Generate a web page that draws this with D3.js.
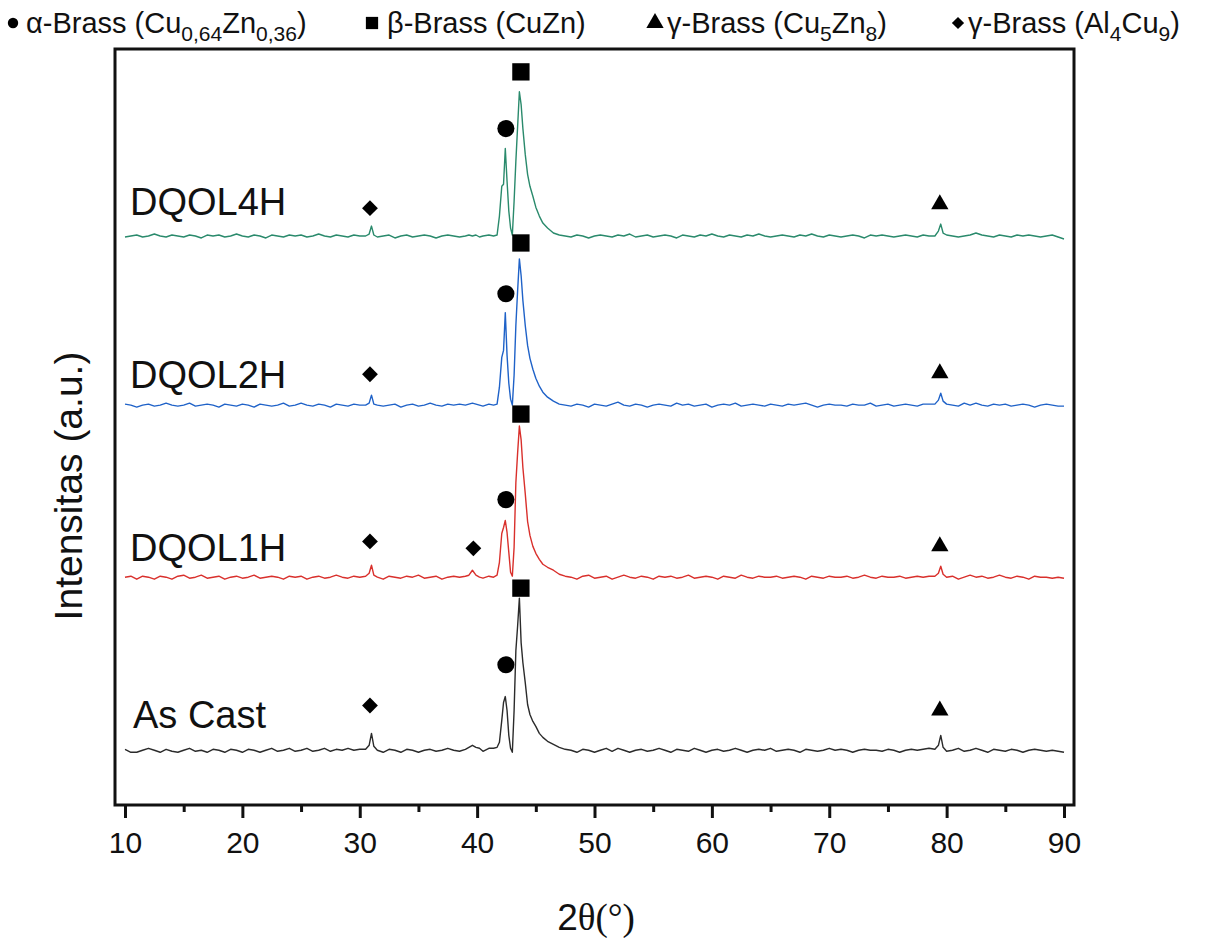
<!DOCTYPE html>
<html>
<head>
<meta charset="utf-8">
<script src="https://cdn.jsdelivr.net/npm/d3@7"></script>
<style>
  body { margin: 0; background: #fff; }
  text { font-family: "Liberation Sans", Arial, sans-serif; fill: #111; }
</style>
</head>
<body>
<script>
// 2theta positions (deg), shared by every pattern
var twoTheta = [
  10, 10.5, 11, 11.5, 12, 12.5, 13, 13.5, 14, 14.5,
  15, 15.5, 16, 16.5, 17, 17.5, 18, 18.5, 19, 19.5,
  20, 20.5, 21, 21.5, 22, 22.5, 23, 23.5, 24, 24.5,
  25, 25.5, 26, 26.5, 27, 27.5, 28, 28.5, 29, 29.5,
  30, 30.5, 30.8, 31, 31.2, 31.5, 32, 32.5, 33, 33.5,
  34, 34.5, 35, 35.5, 36, 36.5, 37, 37.5, 38, 38.5,
  39, 39.3, 39.6, 39.9, 40.2, 40.5, 41, 41.4, 41.7, 41.9,
  42.1, 42.25, 42.4, 42.55, 42.7, 42.85, 43, 43.15, 43.3, 43.45,
  43.6, 43.75, 43.9, 44.1, 44.3, 44.5, 44.75, 45, 45.3, 45.6,
  46, 46.5, 47, 47.5, 48, 48.5, 49, 49.5, 50, 50.5,
  51, 51.5, 52, 52.5, 53, 53.5, 54, 54.5, 55, 55.5,
  56, 56.5, 57, 57.5, 58, 58.5, 59, 59.5, 60, 60.5,
  61, 61.5, 62, 62.5, 63, 63.5, 64, 64.5, 65, 65.5,
  66, 66.5, 67, 67.5, 68, 68.5, 69, 69.5, 70, 70.5,
  71, 71.5, 72, 72.5, 73, 73.5, 74, 74.5, 75, 75.5,
  76, 76.5, 77, 77.5, 78, 78.5, 79, 79.3, 79.5, 79.7,
  80, 80.5, 81, 81.5, 82, 82.5, 83, 83.5, 84, 84.5,
  85, 85.5, 86, 86.5, 87, 87.5, 88, 88.5, 89, 89.5,
  90
];

// intensities above each pattern's own baseline (a.u.)
var asCast = [
  1, -2, -2, 0, 2, 0, -2, 1, -1, -2,
  0, 2, -1, 0, -2, 1, 0, -2, 1, 0,
  -2, 1, 0, -2, 0, 2, -1, 0, 2, -1,
  0, 2, -1, 0, 2, -1, 1, 0, 2, 0,
  1, 1, 5, 17, 4, 0, -2, 1, 0, -2,
  1, 0, -2, 0, 1, -1, 0, 2, 0, -1,
  1, 3, 5, 3, 2, -1, 2, 2, 3, 8,
  30, 48, 54, 40, 15, 2, -2, 40, 100, 125,
  153, 108, 88, 68, 46, 36, 29, 24, 17, 13,
  9, 6, 3, 1, 0, -2, 1, 0, -2, 0,
  2, -1, 2, 0, -2, 0, 1, -1, 0, 2,
  0, -2, 1, 0, -1, 2, 0, -2, 0, 1,
  -1, 0, 2, 0, -2, 0, 1, 0, 2, -1,
  0, 1, 0, -2, 1, 0, -1, 0, 2, 0,
  1, 0, -2, 0, 1, 0, 0, -1, 1, 0,
  -2, 0, 1, 0, 1, 2, 1, 5, 15, 3,
  -1, 0, 2, -1, 0, 2, 0, -2, 1, 0,
  -1, 1, 0, -2, 0, 1, 0, -1, 0, -1,
  -2
];
var dqol1h = [
  0, 1, -2, 1, 0, -2, 1, 0, -2, 1,
  2, -1, 0, 2, -1, 0, 1, -2, 0, 1,
  -1, 0, 2, -1, 0, 1, 0, -2, 1, 0,
  1, -2, 0, 1, -1, 0, 2, 0, -1, 1,
  0, 1, 4, 12, 2, 0, -2, 1, 0, -1,
  1, 0, 2, -1, 0, 1, -2, 0, 1, 0,
  1, 2, 7, 2, 0, -1, 1, 0, 2, 15,
  44, 50, 57, 45, 25, 5, 1, 30, 95, 125,
  152, 138, 110, 84, 56, 42, 31, 24, 18, 13,
  10, 7, 3, 1, 0, -2, 1, 2, -1, 0,
  1, -2, 0, 2, 0, -1, 1, 0, -2, 1,
  0, 1, -1, 0, 2, -1, 0, 1, 0, -2,
  1, 0, -1, 2, 0, -1, 1, 0, 0, 1,
  -1, 0, 1, 0, -2, 1, 0, -1, 1, 0,
  0, 1, -1, 0, 2, 0, -1, 1, 0, 0,
  1, -1, 0, 1, 0, 1, 1, 4, 11, 3,
  0, 1, -2, 0, 2, 0, 1, -1, 0, 2,
  0, -1, 1, 0, -2, 1, 0, 0, -1, 0,
  -1
];
var dqol2h = [
  1, 0, -2, 0, 1, -1, 0, 2, 0, -1,
  0, 2, -1, 0, 1, 0, -2, 1, 0, -1,
  1, 0, -2, 1, 0, -1, 0, 2, -1, 0,
  2, 0, -1, 1, 0, -2, 1, 0, -1, 1,
  0, 0, 2, 10, 1, 0, -1, 0, 1, -2,
  0, 1, -1, 0, 2, 0, -1, 1, 0, 1,
  0, 1, 2, 1, 0, -1, 1, 0, 1, 18,
  48, 55, 93, 50, 22, 6, 0, 30, 80, 115,
  147, 130, 105, 80, 60, 47, 36, 27, 19, 13,
  8, 4, 1, 0, -1, 1, 0, -2, 1, 0,
  -1, 1, 3, 0, -1, 1, 0, -2, 0, 1,
  0, -1, 2, 0, 1, -1, 0, 1, -2, 0,
  1, 0, 2, -1, 0, 1, 0, -1, 1, 0,
  -1, 1, 0, 1, 2, 0, -2, 0, 1, 0,
  0, -1, 1, 0, 0, 2, -1, 0, 1, -1,
  0, 1, 0, -1, 1, 1, 1, 5, 12, 4,
  1, 0, -1, 2, 0, 2, 0, -1, 1, 0,
  1, -1, 0, 1, 0, -2, 0, 1, 0, -1,
  -1
];
var dqol4h = [
  -1, 0, 1, -1, 0, 2, 0, -1, 1, 0,
  -1, 1, 0, -2, 1, 0, 1, -1, 0, 2,
  0, -1, 1, 0, -2, 1, 0, -1, 1, 0,
  1, -1, 0, 2, 0, -1, 1, 0, -1, 1,
  0, 0, 2, 10, 1, -1, 0, 1, -2, 0,
  1, -1, 0, 1, 0, -2, 0, 1, 0, -1,
  0, 1, 0, 1, -1, 0, 1, 0, 1, 20,
  50, 52, 88, 55, 25, 8, 1, 35, 75, 110,
  145, 132, 108, 82, 62, 50, 40, 29, 20, 13,
  8, 3, 1, 0, -1, 1, 0, -2, 0, 1,
  0, -1, 1, 0, 2, -1, 0, 1, -1, 0,
  1, 0, -2, 1, 0, -1, 1, 0, 2, 0,
  -1, 1, 0, -1, 1, 0, 2, 0, -1, 0,
  1, 0, -1, 1, 0, 2, 0, -1, 1, 0,
  -1, 0, 1, 0, -2, 1, 0, 1, 0, -1,
  0, 1, 0, -1, 1, 0, 0, 5, 12, 3,
  1, 0, -1, 0, 1, 3, 1, 0, -1, 1,
  0, -1, 1, 0, 1, 0, -1, 0, 1, -1,
  -3
];

var sampleNames = ["As Cast", "DQOL1H", "DQOL2H", "DQOL4H"];
var sampleData = [asCast, dqol1h, dqol2h, dqol4h];
var sampleOffsets = [54, 228, 401, 571];
var sampleColors = ["#2b2b2b", "#d9302c", "#1f62c8", "#2a8a6c"];

// phase markers: [2theta, stacked intensity]
var alphaMarks = [[42.45, 140], [42.45, 306], [42.45, 513], [42.45, 679]];
var betaMarks = [[43.73, 217], [43.73, 392], [43.73, 564], [43.73, 736]];
var gammaCuZnMarks = [[79.42, 94], [79.42, 259], [79.42, 433], [79.42, 603]];
var gammaAlCuMarks = [[30.87, 99], [30.87, 264], [39.68, 257], [30.87, 432], [30.87, 599]];

var xTicks = [10, 20, 30, 40, 50, 60, 70, 80, 90];
var xMinorTicks = [15, 25, 35, 45, 55, 65, 75, 85];

var width = 1206, height = 938;
var frame = { left: 115, right: 1074, top: 49, bottom: 805 };

var svg = d3.select("body").append("svg")
    .attr("width", width)
    .attr("height", height);

var x = d3.scaleLinear().domain([10, 90]).range([125, 1064]);
var y = d3.scaleLinear().domain([0, 760]).range([804, 48]);

// Patterns
var line = d3.line()
    .x(function(d){ return x(d[0]); })
    .y(function(d){ return y(d[1]); });

sampleData.forEach(function(vals, i){
    var pts = twoTheta.map(function(t, j){ return [t, vals[j] + sampleOffsets[i]]; });
    svg.append("path")
        .attr("fill", "none")
        .attr("stroke", sampleColors[i])
        .attr("stroke-width", 1.4)
        .attr("stroke-linejoin", "round")
        .attr("d", line(pts));
});

// Sample labels
var labelPos = [[133, 728], [130, 561], [130, 388], [130, 215]];
sampleNames.forEach(function(n, i){
    svg.append("text")
        .attr("x", labelPos[i][0])
        .attr("y", labelPos[i][1])
        .attr("font-size", "38px")
        .text(n);
});

// Markers
function drawMarks(data, type, size, rot){
    svg.selectAll(null)
        .data(data)
        .enter().append("path")
        .attr("d", d3.symbol().type(type).size(size))
        .attr("transform", function(d){
            return "translate(" + x(d[0]) + "," + y(d[1]) + ") rotate(" + rot + ")";
        })
        .attr("fill", "#000");
}
drawMarks(alphaMarks, d3.symbolCircle, 230, 0);
drawMarks(betaMarks, d3.symbolSquare, 300, 0);
drawMarks(gammaCuZnMarks, d3.symbolTriangle, 130, 0);
drawMarks(gammaAlCuMarks, d3.symbolSquare, 125, 45);

// Frame
svg.append("rect")
    .attr("x", frame.left)
    .attr("y", frame.top)
    .attr("width", frame.right - frame.left)
    .attr("height", frame.bottom - frame.top)
    .attr("fill", "none")
    .attr("stroke", "#111")
    .attr("stroke-width", 3);

// X-axis
var xAxisCall = d3.axisBottom(x)
    .tickValues(xTicks)
    .tickSize(13)
    .tickPadding(14);
var xAxis = svg.append("g")
    .attr("transform", "translate(0," + frame.bottom + ")")
    .call(xAxisCall);
xAxis.select(".domain").remove();
xAxis.selectAll("line").attr("stroke", "#111").attr("stroke-width", 3);
xAxis.selectAll("text")
    .attr("font-size", "30px")
    .attr("font-family", "Liberation Sans, Arial, sans-serif")
    .attr("fill", "#111");

var xMinor = svg.append("g")
    .attr("transform", "translate(0," + frame.bottom + ")")
    .call(d3.axisBottom(x).tickValues(xMinorTicks).tickSize(7).tickFormat(""));
xMinor.select(".domain").remove();
xMinor.selectAll("line").attr("stroke", "#111").attr("stroke-width", 3);

// Axis labels
var xLabel = svg.append("text")
    .attr("x", 596)
    .attr("y", 930)
    .attr("font-size", "37px")
    .attr("text-anchor", "middle");
xLabel.append("tspan").text("2");
xLabel.append("tspan")
    .attr("font-family", "Liberation Serif, Times New Roman, serif")
    .text("θ(°)");

svg.append("text")
    .attr("transform", "translate(82,486) rotate(-90)")
    .attr("font-size", "39px")
    .attr("text-anchor", "middle")
    .text("Intensitas (a.u.)");

// Legend
var legendItems = [
    { sym: d3.symbolCircle, size: 85, rot: 0, parts: [["α-Brass (Cu", 0], ["0,64", 1], ["Zn", 0], ["0,36", 1], [")", 0]] },
    { sym: d3.symbolSquare, size: 150, rot: 0, parts: [["β-Brass (CuZn)", 0]] },
    { sym: d3.symbolTriangle, size: 130, rot: 0, parts: [["γ-Brass (Cu", 0], ["5", 1], ["Zn", 0], ["8", 1], [")", 0]] },
    { sym: d3.symbolSquare, size: 75, rot: 45, parts: [["γ-Brass (Al", 0], ["4", 1], ["Cu", 0], ["9", 1], [")", 0]] }
];
var legendX = [[13, 26], [372, 387], [655, 667], [958, 968]];
var legendY = 33;

legendItems.forEach(function(it, i){
    svg.append("path")
        .attr("d", d3.symbol().type(it.sym).size(it.size))
        .attr("transform", "translate(" + legendX[i][0] + "," + (legendY - 10) + ") rotate(" + it.rot + ")")
        .attr("fill", "#000");
    var t = svg.append("text")
        .attr("x", legendX[i][1])
        .attr("y", legendY)
        .attr("font-size", "29px");
    var sub = false;
    it.parts.forEach(function(p){
        var ts = t.append("tspan").text(p[0]);
        if (p[1] && !sub) { ts.attr("dy", 8).attr("font-size", "21px"); sub = true; }
        else if (!p[1] && sub) { ts.attr("dy", -8); sub = false; }
    });
});
</script>
</body>
</html>
